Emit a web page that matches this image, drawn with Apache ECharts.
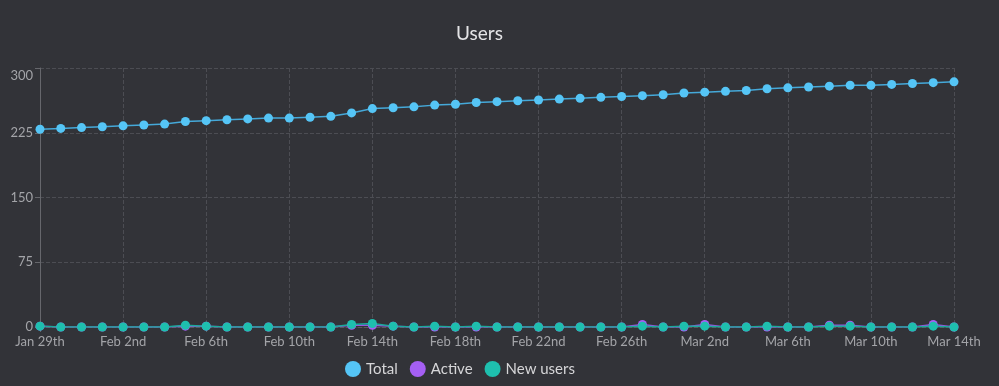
<!DOCTYPE html>
<html>
<head>
<meta charset="utf-8">
<script src="https://cdn.jsdelivr.net/npm/echarts@6/dist/echarts.min.js"></script>
<style>
html,body{margin:0;padding:0;background:#323338;}
#chart{width:999px;height:386px;}
</style>
</head>
<body>
<div id="chart"></div>
<script>
var categories = ["Jan 29th","Jan 30th","Jan 31st","Feb 1st","Feb 2nd","Feb 3rd","Feb 4th","Feb 5th","Feb 6th","Feb 7th","Feb 8th","Feb 9th","Feb 10th","Feb 11th","Feb 12th","Feb 13th","Feb 14th","Feb 15th","Feb 16th","Feb 17th","Feb 18th","Feb 19th","Feb 20th","Feb 21st","Feb 22nd","Feb 23rd","Feb 24th","Feb 25th","Feb 26th","Feb 27th","Feb 28th","Mar 1st","Mar 2nd","Mar 3rd","Mar 4th","Mar 5th","Mar 6th","Mar 7th","Mar 8th","Mar 9th","Mar 10th","Mar 11th","Mar 12th","Mar 13th","Mar 14th"];
var totalUsers = [229,230,231,232,233,234,235,238,239,240,241,242,242,243,244,248,253,254,255,257,258,260,261,262,263,264,265,266,267,268,269,271,272,273,274,276,277,278,279,280,280,281,282,283,284];
var activeUsers = [1,0,0,0,0,0,0,1,1,0,0,0,0,0,0,2,2,1,0,0,0,0,0,0,0,0,0,0,0,3,0,0,3,0,0,0,0,0,2,2,0,0,0,3,0];
var newUsers = [1,0,0,0,0,0,0,2,1,0,0,0,0,0,0,3,4,1,0,1,0,1,0,0,0,0,0,0,0,1,0,1,1,0,0,1,0,0,1,1,0,0,0,1,0];
var yTicks = [0,75,150,225,300];
var seriesNames = ["Total","Active","New users"];

var FONT = "Lato, 'Noto Sans', sans-serif";
var chart = echarts.init(document.getElementById('chart'), null, {renderer:'canvas'});
chart.setOption({
  backgroundColor: '#323338',
  animation: false,
  title: {
    text: 'Users',
    left: 451, top: 19,
    textStyle: {color:'#e4e4e6', fontSize:19, fontWeight:'normal', fontFamily:FONT}
  },
  legend: {
    bottom: 4, left: 340,
    icon: 'circle',
    itemWidth: 16, itemHeight: 16, itemGap: 12,
    data: seriesNames,
    textStyle: {color:'#d6d6d8', fontSize:15, fontFamily:FONT}
  },
  grid: {left:40, right:45, top:68, bottom:59, containLabel:false},
  xAxis: {
    type:'category', boundaryGap:false, data:categories,
    axisLine:{show:true, lineStyle:{color:'#5a5b60', type:'dashed'}},
    axisTick:{show:true, interval:3, length:5, lineStyle:{color:'#66676c'}},
    axisLabel:{interval:3, color:'#a3a4a8', fontSize:13, margin:8, fontFamily:FONT},
    splitLine:{show:true, interval:3, lineStyle:{color:'#4c4d53', type:'dashed'}}
  },
  yAxis: {
    type:'value', min:yTicks[0], max:yTicks[yTicks.length-1], interval:yTicks[1]-yTicks[0],
    axisLine:{show:true, lineStyle:{color:'#66676c'}},
    axisTick:{show:true, length:5, lineStyle:{color:'#66676c'}},
    axisLabel:{color:'#a3a4a8', fontSize:13, margin:7, fontFamily:FONT,
      formatter:function(v){ return v === 300 ? '{top|' + v + '}' : String(v); },
      rich:{top:{color:'#a3a4a8', fontSize:13, fontFamily:FONT, padding:[16,0,0,0]}}
    },
    splitLine:{show:true, lineStyle:{color:'#4c4d53', type:'dashed'}}
  },
  series: [
    {name:seriesNames[0], type:'line', data:totalUsers, symbol:'circle', symbolSize:9, showSymbol:true,
     itemStyle:{color:'#55c5f6'}, lineStyle:{color:'#45a9d9', width:1.5}},
    {name:seriesNames[1], type:'line', data:activeUsers, symbol:'circle', symbolSize:9,
     itemStyle:{color:'#a55ff4'}, lineStyle:{color:'#9656de', width:1.5}},
    {name:seriesNames[2], type:'line', data:newUsers, symbol:'circle', symbolSize:9,
     itemStyle:{color:'#1ebfae'}, lineStyle:{color:'#1aa99b', width:1.5}}
  ]
});
</script>
</body>
</html>
